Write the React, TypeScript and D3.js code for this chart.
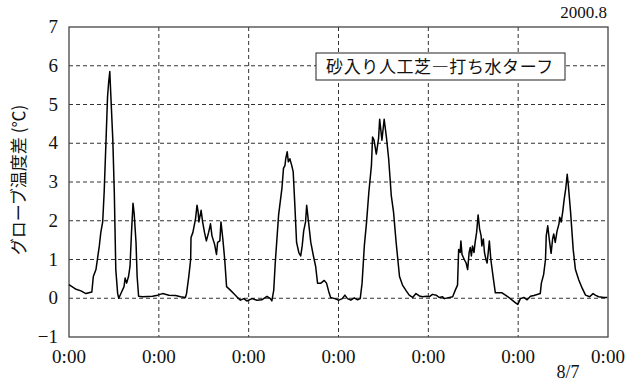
import { useEffect, useRef } from 'react';
import * as d3 from 'd3';

// hours since the first 0:00 and globe temperature difference (°C)
const hours = [
  0.0, 1.9, 3.2, 4.5, 6.1, 6.5, 7.2, 8.1, 8.5, 9.0, 9.4, 9.9, 10.3, 10.6, 10.9, 11.1, 11.7, 12.1, 12.5, 13.0,
  13.3, 13.9, 14.7, 15.0, 15.4, 15.9, 16.3, 16.7, 17.1, 17.4, 17.9, 18.2, 18.6, 19.7, 22.3, 23.7, 25.0, 26.7, 28.5,
  29.8, 31.1, 31.4, 32.0, 32.5, 32.6, 33.1, 33.8, 34.2, 34.5, 34.7, 35.3, 35.7, 36.2, 36.7, 37.3, 37.8, 38.2, 38.9,
  39.4, 39.7, 40.3, 40.6, 41.1, 41.6, 42.1, 43.1, 44.0, 44.9, 45.8, 46.7, 47.5, 48.9, 50.2, 51.5, 52.9, 53.8, 54.2,
  54.7, 55.1, 56.0, 56.9,
  57.3, 57.7, 57.9, 58.3, 58.6, 59.0, 59.5, 59.9, 60.3, 60.8, 61.4, 61.9, 62.3, 62.7, 63.2, 63.5, 63.9, 64.6, 65.3,
  65.9, 66.4, 67.3, 68.2, 68.8, 69.4, 69.9, 71.0, 72.1, 73.0, 73.7, 74.4, 75.3, 76.2, 77.1, 77.8, 78.3, 78.9, 79.5,
  80.1, 80.8, 81.1, 81.5, 82.1, 82.7, 83.0, 83.6, 84.2, 84.8, 85.4, 86.1,
  86.7, 87.4, 88.3, 89.1, 90.1, 90.9, 91.8, 92.7, 93.6, 94.5, 95.5, 96.3, 97.1, 98.1, 98.9, 99.8, 100.3, 101.1,
  102.5, 103.2, 103.8, 104.1, 104.5, 104.7, 105.0, 105.6, 106.1, 106.5, 106.9, 107.2, 107.5, 107.8, 108.2, 108.5,
  108.9, 109.3, 109.7, 110.1, 110.3, 110.7, 111.0, 111.4, 111.7, 112.0, 112.3, 112.7, 113.3, 113.9, 114.7,
  115.7, 116.6, 117.5, 118.4, 119.3, 119.9, 120.6, 121.5, 122.4, 123.3, 124.2, 125.5, 125.9, 126.2, 126.8, 127.3,
  127.5, 127.9, 128.3, 128.8, 129.2, 129.5, 129.9, 130.4, 130.9, 131.1, 131.5, 131.9, 132.3, 132.7, 133.1, 133.4,
  134.0, 134.7, 135.3, 136.2, 137.1, 138.0, 139.1, 140.0, 140.6, 141.5, 142.9, 143.8,
];
const diffs = [
  0.35, 0.23, 0.19, 0.12, 0.16, 0.56, 0.74, 1.35, 1.7, 1.97, 2.75, 4.1, 5.2, 5.58, 5.85, 5.4, 4.1, 2.75, 0.74, 0.12,
  0.0, 0.13, 0.3, 0.52, 0.39, 0.56, 0.82, 1.7, 2.45, 2.2, 1.45, 0.56, 0.05, 0.04, 0.05, 0.08, 0.12, 0.08, 0.07,
  0.04, 0.02, 0.12, 0.56, 1.0, 1.57, 1.7, 2.05, 2.4, 2.23, 1.97, 2.27, 1.97, 1.7, 1.48, 1.7, 1.92, 1.61, 1.39,
  1.13, 1.44, 1.48, 1.97, 1.53, 1.0, 0.3, 0.21, 0.12, 0.03, -0.05, -0.01, -0.07, -0.01, -0.05, -0.04, 0.05, -0.01, -0.07,
  0.21, 0.91, 2.15, 2.85,
  3.35, 3.43, 3.6, 3.78, 3.52, 3.6, 3.43, 3.26, 2.48, 1.44, 1.18, 1.09, 1.35, 1.74, 1.97, 2.4, 2.05, 1.44, 1.09,
  0.82, 0.39, 0.39, 0.46, 0.39, 0.17, 0.02, -0.01, -0.05, -0.01, 0.08, -0.01, -0.05, 0.01, -0.04, -0.01, 0.39, 1.35, 1.97,
  2.73, 3.43, 4.16, 4.08, 3.72, 4.12, 4.62, 4.08, 4.62, 4.16, 3.6, 2.65,
  2.23, 1.44, 0.56, 0.34, 0.19, 0.08, 0.02, 0.12, 0.06, 0.04, 0.05, 0.04, 0.1, 0.08, 0.02, 0.04, -0.01, 0.01,
  0.04, 0.21, 0.34, 1.26, 1.18, 1.48, 1.13, 1.0, 0.91, 0.74, 1.18, 1.31, 1.09, 1.35, 1.18, 1.44,
  1.7, 2.15, 1.79, 1.61, 1.35, 1.53, 1.18, 1.0, 0.91, 1.18, 1.48, 1.0, 0.56, 0.14, 0.14,
  0.14, 0.08, 0.02, -0.05, -0.12, -0.16, -0.01, 0.02, -0.04, 0.05, 0.07, 0.11, 0.12, 0.39, 0.61, 1.0,
  1.61, 1.87, 1.53, 1.16, 1.53, 1.66, 1.44, 1.74, 1.92, 2.09, 1.97, 2.23, 2.56, 2.82, 3.2, 2.92,
  2.23, 1.26, 0.74, 0.47, 0.26, 0.08, 0.04, 0.12, 0.08, 0.04, 0.02, 0.02,
];

const yTicks = [-1, 0, 1, 2, 3, 4, 5, 6, 7];
const xTicks = [0, 24, 48, 72, 96, 120, 144];
const xTickLabel = '0:00';
const yTitle = 'グローブ温度差 (℃)';
const legendText = '砂入り人工芝―打ち水ターフ';
const dateNote = '2000.8';
const dayNote = '8/7';

export default function App() {
  const svgRef = useRef<SVGSVGElement>(null);

  useEffect(() => {
    if (!svgRef.current) return;
    const svg = d3.select(svgRef.current);
    svg.selectAll('*').remove();

    const left = 69, right = 608, top = 27, bottom = 337;
    const x = d3.scaleLinear().domain([0, 144]).range([left, right]);
    const y = d3.scaleLinear().domain([-1, 7]).range([bottom, top]);
    const serif = '"Liberation Serif", "DejaVu Serif", serif';

    svg.append('rect')
      .attr('width', 631).attr('height', 383).attr('fill', '#fff');

    // grid
    const grid = svg.append('g')
      .attr('stroke', '#333')
      .attr('stroke-width', 1)
      .attr('stroke-dasharray', '4,3');
    grid.selectAll('line.h')
      .data(yTicks.filter(d => d > -1 && d < 7))
      .enter().append('line')
      .attr('x1', left).attr('x2', right)
      .attr('y1', d => y(d)).attr('y2', d => y(d));
    grid.selectAll('line.v')
      .data(xTicks.slice(1, -1))
      .enter().append('line')
      .attr('x1', d => x(d)).attr('x2', d => x(d))
      .attr('y1', top).attr('y2', bottom);

    // frame
    svg.append('rect')
      .attr('x', left).attr('y', top)
      .attr('width', right - left).attr('height', bottom - top)
      .attr('fill', 'none').attr('stroke', '#444').attr('stroke-width', 1.3);

    // data line
    const pts = hours.map((h, i) => [h, diffs[i]] as [number, number]);
    const line = d3.line<[number, number]>()
      .x(d => x(d[0]))
      .y(d => y(d[1]));
    svg.append('path')
      .attr('d', line(pts))
      .attr('fill', 'none')
      .attr('stroke', '#000')
      .attr('stroke-width', 1.5)
      .attr('stroke-linejoin', 'round');

    // y tick labels
    svg.selectAll('text.yt')
      .data(yTicks)
      .enter().append('text')
      .attr('x', 58)
      .attr('y', d => y(d) + 6)
      .attr('text-anchor', 'end')
      .attr('font-family', serif)
      .attr('font-size', 19)
      .attr('fill', '#111')
      .text(d => (d < 0 ? `−${-d}` : `${d}`));

    // x tick labels
    svg.selectAll('text.xt')
      .data(xTicks)
      .enter().append('text')
      .attr('x', d => x(d))
      .attr('y', 363)
      .attr('text-anchor', 'middle')
      .attr('font-family', serif)
      .attr('font-size', 19)
      .attr('fill', '#111')
      .text(xTickLabel);

    svg.append('text')
      .attr('x', 568).attr('y', 378)
      .attr('text-anchor', 'middle')
      .attr('font-family', serif)
      .attr('font-size', 18)
      .attr('fill', '#111')
      .text(dayNote);

    svg.append('text')
      .attr('x', 607).attr('y', 18)
      .attr('text-anchor', 'end')
      .attr('font-family', serif)
      .attr('font-size', 17)
      .attr('fill', '#111')
      .text(dateNote);

    // y axis title
    svg.append('text')
      .attr('transform', 'translate(25,180) rotate(-90)')
      .attr('text-anchor', 'middle')
      .attr('font-family', '"Noto Sans CJK JP", sans-serif')
      .attr('font-size', 17)
      .attr('fill', '#111')
      .text(yTitle);

    // legend box
    svg.append('rect')
      .attr('x', 316).attr('y', 53)
      .attr('width', 249).attr('height', 27)
      .attr('fill', '#fff').attr('stroke', '#222').attr('stroke-width', 1);
    svg.append('text')
      .attr('x', 440).attr('y', 73)
      .attr('text-anchor', 'middle')
      .attr('font-family', '"Noto Sans CJK JP", sans-serif')
      .attr('font-size', 17)
      .attr('letter-spacing', 0.6)
      .attr('fill', '#111')
      .text(legendText);
  }, []);

  return (
    <svg
      ref={svgRef}
      width={631}
      height={383}
      style={{ position: 'absolute', left: 0, top: 0, display: 'block' }}
    />
  );
}
